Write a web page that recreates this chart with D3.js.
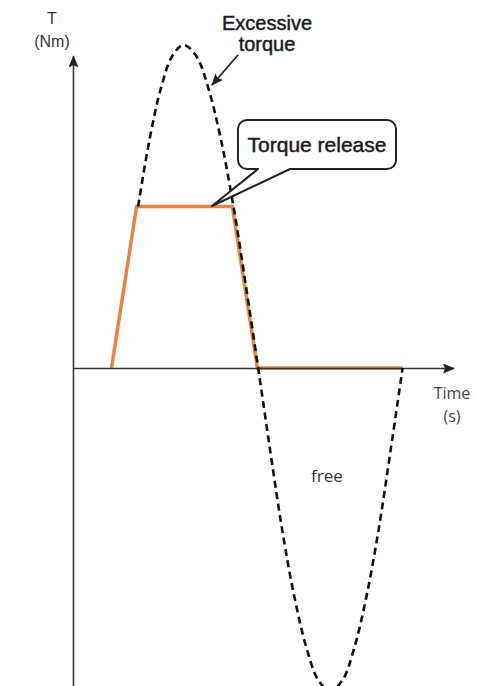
<!DOCTYPE html>
<html>
<head>
<meta charset="utf-8">
<script src="https://cdn.jsdelivr.net/npm/d3@7/dist/d3.min.js"></script>
<style>
  body { margin: 0; background: #fff; }
  svg { display: block; }
</style>
</head>
<body>
<script>
//chart data (time in arbitrary units, torque relative to the peak)
var releaseTime   = [1.0, 1.66, 4.18, 4.84, 8.66];
var releaseTorque = [0, 0.5, 0.5, 0, 0];

var excessTime   = [1.7, 2.0, 2.3, 2.6, 2.9, 3.23, 3.55, 3.88, 4.21, 4.53, 4.86,
                    5.18, 5.49, 5.81, 6.13, 6.44, 6.76, 7.08, 7.39, 7.71, 8.03, 8.34, 8.66];
var excessTorque = [0.5, 0.707, 0.866, 0.966, 1.0, 0.966, 0.866, 0.707, 0.5, 0.259, 0,
                    -0.259, -0.5, -0.707, -0.866, -0.966, -1.0, -0.966, -0.866, -0.707, -0.5, -0.259, 0];

var axisLabels = {y: ["T", "(Nm)"], x: ["Time", "(s)"]};
var noteLabels = {excess: ["Excessive", "torque"], release: "Torque release", free: "free"};

(function(){

    var width = 477,
        height = 686;

    var svg = d3.select("body")
        .append("svg")
        .attr("width", width)
        .attr("height", height);

    var x = d3.scaleLinear().domain([0, 10]).range([73.5, 453.5]);
    var y = d3.scaleLinear().domain([-1, 1]).range([691, 45]);

    //arrow head marker
    var defs = svg.append("defs");
    defs.append("marker")
        .attr("id", "head")
        .attr("markerUnits", "userSpaceOnUse")
        .attr("viewBox", "0 0 12 10")
        .attr("refX", 11)
        .attr("refY", 5)
        .attr("markerWidth", 12)
        .attr("markerHeight", 10)
        .attr("orient", "auto")
        .append("path")
        .attr("d", "M0,0 L12,5 L0,10 L2,5 z")
        .attr("fill", "#222");

    var line = d3.line()
        .x(function(d){ return x(d[0]); })
        .y(function(d){ return y(d[1]); });

    //orange torque release trace
    var release = d3.zip(releaseTime, releaseTorque);
    svg.append("path")
        .datum(release)
        .attr("d", line)
        .attr("fill", "none")
        .attr("stroke", "#E8843F")
        .attr("stroke-width", 3.5)
        .attr("stroke-linejoin", "miter");

    //axes
    var xAxis = d3.axisBottom(x).ticks(0).tickSizeOuter(0);
    var gx = svg.append("g")
        .attr("transform", "translate(0," + Math.round(y(0)) + ")")
        .call(xAxis);
    gx.select(".domain")
        .attr("stroke", "#333")
        .attr("stroke-width", 1.6)
        .attr("marker-end", "url(#head)");

    svg.append("line")
        .attr("x1", x(0)).attr("x2", x(0))
        .attr("y1", height).attr("y2", y(0.965))
        .attr("stroke", "#333")
        .attr("stroke-width", 1.6)
        .attr("marker-end", "url(#head)");

    //dashed excessive torque curve
    var excess = d3.zip(excessTime, excessTorque);
    svg.append("path")
        .datum(excess)
        .attr("d", line.curve(d3.curveCatmullRom))
        .attr("fill", "none")
        .attr("stroke", "#111")
        .attr("stroke-width", 2.6)
        .attr("stroke-dasharray", "7,4.5");

    //axis labels
    svg.append("text")
        .attr("text-anchor", "middle")
        .attr("font-family", "Liberation Sans, Arial, sans-serif")
        .attr("font-size", 16)
        .attr("fill", "#333")
        .selectAll("tspan")
        .data(axisLabels.y)
        .enter()
        .append("tspan")
        .attr("x", 52)
        .attr("y", function(d, i){ return 24 + i * 23; })
        .text(function(d){ return d; });

    svg.append("text")
        .attr("text-anchor", "middle")
        .attr("font-family", "Open Sans, sans-serif")
        .attr("font-size", 16)
        .attr("fill", "#444")
        .selectAll("tspan")
        .data(axisLabels.x)
        .enter()
        .append("tspan")
        .attr("x", 452)
        .attr("y", function(d, i){ return 399 + i * 23; })
        .text(function(d){ return d; });

    svg.append("text")
        .attr("x", 327)
        .attr("y", 482)
        .attr("text-anchor", "middle")
        .attr("font-family", "Open Sans, sans-serif")
        .attr("font-size", 17)
        .attr("fill", "#333")
        .text(noteLabels.free);

    //excessive torque note with arrow
    svg.append("text")
        .attr("text-anchor", "middle")
        .attr("font-family", "Liberation Sans, Arial, sans-serif")
        .attr("font-size", 20)
        .attr("fill", "#1a1a1a")
        .attr("stroke", "#1a1a1a")
        .attr("stroke-width", 0.45)
        .selectAll("tspan")
        .data(noteLabels.excess)
        .enter()
        .append("tspan")
        .attr("x", 267)
        .attr("y", function(d, i){ return 30 + i * 21; })
        .text(function(d){ return d; });

    svg.append("line")
        .attr("x1", 238).attr("y1", 55)
        .attr("x2", 212).attr("y2", 85)
        .attr("stroke", "#222")
        .attr("stroke-width", 1.8)
        .attr("marker-end", "url(#head)");

    //torque release callout
    var tipX = 212, tipY = Math.round(y(0.5)) - 1;
    var bx = 238, by = 120, bw = 158, bh = 49, r = 9;
    var callout = d3.path();
    callout.moveTo(bx + r, by);
    callout.lineTo(bx + bw - r, by);
    callout.arcTo(bx + bw, by, bx + bw, by + r, r);
    callout.lineTo(bx + bw, by + bh - r);
    callout.arcTo(bx + bw, by + bh, bx + bw - r, by + bh, r);
    callout.lineTo(290, by + bh);
    callout.lineTo(tipX, tipY);
    callout.lineTo(258, by + bh);
    callout.lineTo(bx + r, by + bh);
    callout.arcTo(bx, by + bh, bx, by + bh - r, r);
    callout.lineTo(bx, by + r);
    callout.arcTo(bx, by, bx + r, by, r);
    callout.closePath();

    svg.append("path")
        .attr("d", callout.toString())
        .attr("fill", "#fff")
        .attr("stroke", "#222")
        .attr("stroke-width", 2)
        .attr("stroke-linejoin", "round");

    svg.append("text")
        .attr("x", bx + bw / 2)
        .attr("y", 152)
        .attr("text-anchor", "middle")
        .attr("font-family", "Liberation Sans, Arial, sans-serif")
        .attr("font-size", 21)
        .attr("fill", "#1a1a1a")
        .attr("stroke", "#1a1a1a")
        .attr("stroke-width", 0.45)
        .text(noteLabels.release);

})();
</script>
</body>
</html>
